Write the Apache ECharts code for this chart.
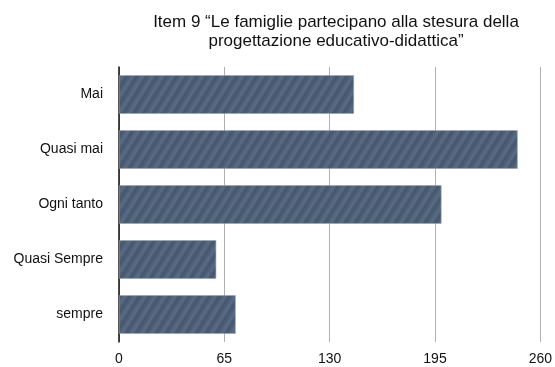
<!DOCTYPE html>
<html>
<head>
<meta charset="utf-8">
<script src="https://cdn.jsdelivr.net/npm/echarts@6/dist/echarts.min.js"></script>
<style>
  html, body { margin: 0; padding: 0; background: #fff; }
  #chart { width: 555px; height: 367px; }
</style>
</head>
<body>
<div id="chart"></div>
<script>
// Response categories (top to bottom) and the number of answers for each
const categories = ['Mai', 'Quasi mai', 'Ogni tanto', 'Quasi Sempre', 'sempre'];
const counts = [145, 246, 199, 60, 72];
const axisTicks = [0, 65, 130, 195, 260];
const titleText = 'Item 9 \u201cLe famiglie partecipano alla stesura della\nprogettazione educativo-didattica\u201d';

// Slate fill with soft, steep diagonal hatching
function hatchPattern() {
  const w = 10, h = 16;
  const c = document.createElement('canvas');
  c.width = w; c.height = h;
  const g = c.getContext('2d');
  g.fillStyle = '#4d5f76';
  g.fillRect(0, 0, w, h);
  const stripe = (dx, color, lw) => {
    g.strokeStyle = color;
    g.lineWidth = lw;
    for (let k = -w; k <= w; k += w) {
      g.beginPath();
      g.moveTo(k + dx, h);
      g.lineTo(k + dx + w, 0);
      g.stroke();
    }
  };
  stripe(0, 'rgba(125,145,168,0.2)', 3.5);
  stripe(4.5, 'rgba(40,52,68,0.16)', 2);
  return c;
}

const chart = echarts.init(document.getElementById('chart'));
const font = '"Liberation Sans", Arial, sans-serif';
chart.setOption({
  animation: false,
  title: {
    text: titleText,
    left: 331,
    textAlign: 'center',
    top: 8,
    textStyle: { fontFamily: font, fontSize: 17, fontWeight: 'normal', color: '#111', lineHeight: 19 }
  },
  grid: { left: 119, right: 12, top: 67, height: 275 },
  xAxis: {
    type: 'value',
    min: axisTicks[0],
    max: axisTicks[axisTicks.length - 1],
    interval: 65,
    axisLine: { show: false },
    axisTick: { show: false },
    axisLabel: { fontFamily: font, fontSize: 14, color: '#111', margin: 10 },
    splitLine: { show: true, lineStyle: { color: '#b0b0b0', width: 1 } }
  },
  yAxis: {
    type: 'category',
    inverse: true,
    data: categories,
    axisLine: { show: true, lineStyle: { color: '#111', width: 1.5 } },
    axisTick: { show: false },
    axisLabel: { fontFamily: font, fontSize: 14, color: '#111', margin: 16 }
  },
  series: [{
    type: 'bar',
    data: counts,
    barCategoryGap: '30%',
    itemStyle: {
      color: { image: hatchPattern(), repeat: 'repeat' },
      borderColor: '#9aa3ad',
      borderWidth: 0.6
    }
  }]
});
</script>
</body>
</html>
